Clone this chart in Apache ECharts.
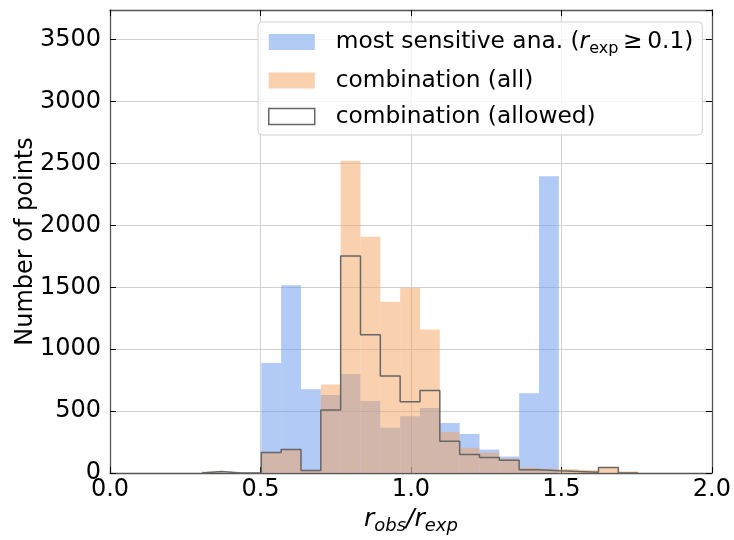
<!DOCTYPE html>
<html><head><meta charset="utf-8">
<script src="https://cdn.jsdelivr.net/npm/echarts@6/dist/echarts.min.js"></script>
<style>html,body{margin:0;padding:0;background:#fff}#c{width:734px;height:540px}</style>
</head><body><div id="c"></div>
<script>
// Histogram bin edges (r_obs / r_exp)
const binEdges = [0.3051,0.3710,0.4369,0.5028,0.5687,0.6346,0.7005,0.7664,0.8323,0.8982,0.9641,1.0300,1.0959,1.1618,1.2277,1.2936,1.3595,1.4254,1.4913,1.5572,1.6231,1.6890,1.7549];
// Counts per bin
const mostSensitive = [0,0,0,888,1517,677,630,800,581,365,459,525,403,315,189,133,645,2397,0,0,0,0];
const combAll       = [12,0,0,170,192,24,715,2523,1909,1384,1496,1160,331,203,165,117,45,35,32,24,45,13];
const combAllowed   = [12,0,0,165,189,21,509,1752,1117,784,576,667,256,149,125,103,26,18,12,6,45,0];
const seriesNames = ['most sensitive ana.', 'combination (all)', 'combination (allowed)'];
const xTickLabels = ['0.0','0.5','1.0','1.5','2.0'];
const yTickLabels = ['0','500','1000','1500','2000','2500','3000','3500'];

const FONT = 'DejaVu Sans';
const FS = 24;
const LFS = 23.3;
const chart = echarts.init(document.getElementById('c'), null, {renderer:'canvas'});

function barSeries(name, values, color, z) {
  return {
    type:'custom', name: name, z: z,
    data: values.map((v,i)=>[binEdges[i], binEdges[i+1], v]),
    encode:{x:[0,1], y:2},
    renderItem: function(params, api){
      const p0 = api.coord([api.value(0), api.value(2)]);
      const p1 = api.coord([api.value(1), 0]);
      return {type:'rect', shape:{x:p0[0], y:p0[1], width:p1[0]-p0[0], height:p1[1]-p0[1]},
              style:{fill:color}};
    }
  };
}

const stepData = [[binEdges[0],0]].concat(combAllowed.map((v,i)=>[binEdges[i], v]), [[binEdges[binEdges.length-1],0]]);

const axisLineStyle = {show:true, onZero:false, lineStyle:{color:'#555', width:1.3}};
const tickStyle = {show:true, inside:true, length:6, lineStyle:{color:'#000', width:1}};
const gridLine = {show:true, lineStyle:{color:'#d0d0d0', width:1}};

chart.setOption({
  animation:false,
  grid:{left:110, right:20, top:10, bottom:62, containLabel:false},
  legend:{
    orient:'vertical', left:258, top:22,
    padding:[5,9,6,10], itemGap:11, itemWidth:46, itemHeight:16,
    backgroundColor:'rgba(255,255,255,0.8)', borderColor:'#d0d0d0', borderWidth:1, borderRadius:4,
    textStyle:{fontFamily:FONT, fontSize:LFS, color:'#000', lineHeight:25, padding:[0,0,0,16],
      rich:{
        n:{fontFamily:FONT, fontSize:LFS, lineHeight:30, verticalAlign:'middle', color:'#000'},
        i:{fontFamily:FONT, fontStyle:'italic', fontSize:LFS, lineHeight:30, verticalAlign:'middle', color:'#000'},
        s:{fontFamily:FONT, fontSize:16, lineHeight:16, verticalAlign:'bottom', color:'#000'}
      }},
    formatter: function(name){
      if (name === seriesNames[0]) return '{n|most sensitive ana. (}{i|r}{s|exp}{n|\u2009\u2265\u20090.1)}';
      return name;
    },
    data:[
      {name:seriesNames[0], icon:'rect', itemStyle:{color:'rgba(100,149,237,0.5)', borderWidth:0}},
      {name:seriesNames[1], icon:'rect', itemStyle:{color:'rgba(244,164,96,0.5)', borderWidth:0}},
      {name:seriesNames[2], icon:'rect', itemStyle:{color:'rgba(255,255,255,0)', borderColor:'#666', borderWidth:1.5}}
    ]
  },
  xAxis:[
    {type:'value', min:0, max:2, interval:0.5, position:'bottom',
     axisLine:axisLineStyle, axisTick:tickStyle, splitLine:gridLine,
     axisLabel:{fontFamily:FONT, fontSize:FS, color:'#000', margin:5,
       formatter:(v)=>xTickLabels[Math.round(v/0.5)]},
     name:'{i|r}{s|obs}{i|/r}{s|exp}', nameLocation:'middle', nameGap:30, nameMoveOverlap:false,
     nameTextStyle:{fontFamily:FONT, color:'#000', rich:{
       i:{fontFamily:FONT, fontStyle:'italic', fontSize:25, lineHeight:32, verticalAlign:'middle', color:'#000'},
       s:{fontFamily:FONT, fontStyle:'italic', fontSize:18, lineHeight:18, verticalAlign:'bottom', color:'#000'}
     }}},
    {type:'value', min:0, max:2, interval:0.5, position:'top',
     axisLine:axisLineStyle, axisTick:tickStyle, axisLabel:{show:false}, splitLine:{show:false}}
  ],
  yAxis:[
    {type:'value', min:0, max:3740, interval:500, position:'left',
     axisLine:axisLineStyle, axisTick:tickStyle, splitLine:gridLine,
     axisLabel:{fontFamily:FONT, fontSize:FS, color:'#000', margin:9, showMaxLabel:false,
       formatter:(v)=>{const k=Math.round(v/500); return (v%500===0 && yTickLabels[k]!==undefined)?yTickLabels[k]:'';}},
     name:'Number of points', nameLocation:'middle', nameGap:72, nameMoveOverlap:false,
     nameTextStyle:{fontFamily:FONT, fontSize:FS, color:'#000'}},
    {type:'value', min:0, max:3740, interval:500, position:'right',
     axisLine:axisLineStyle, axisTick:tickStyle, axisLabel:{show:false}, splitLine:{show:false}}
  ],
  series:[
    barSeries(seriesNames[0], mostSensitive, 'rgba(100,149,237,0.5)', 2),
    barSeries(seriesNames[1], combAll, 'rgba(244,164,96,0.5)', 3),
    {type:'line', name:seriesNames[2], step:'end', data:stepData, symbol:'none', z:4,
     lineStyle:{color:'#666', width:1.5}, itemStyle:{color:'#666'}}
  ]
});
</script></body></html>
